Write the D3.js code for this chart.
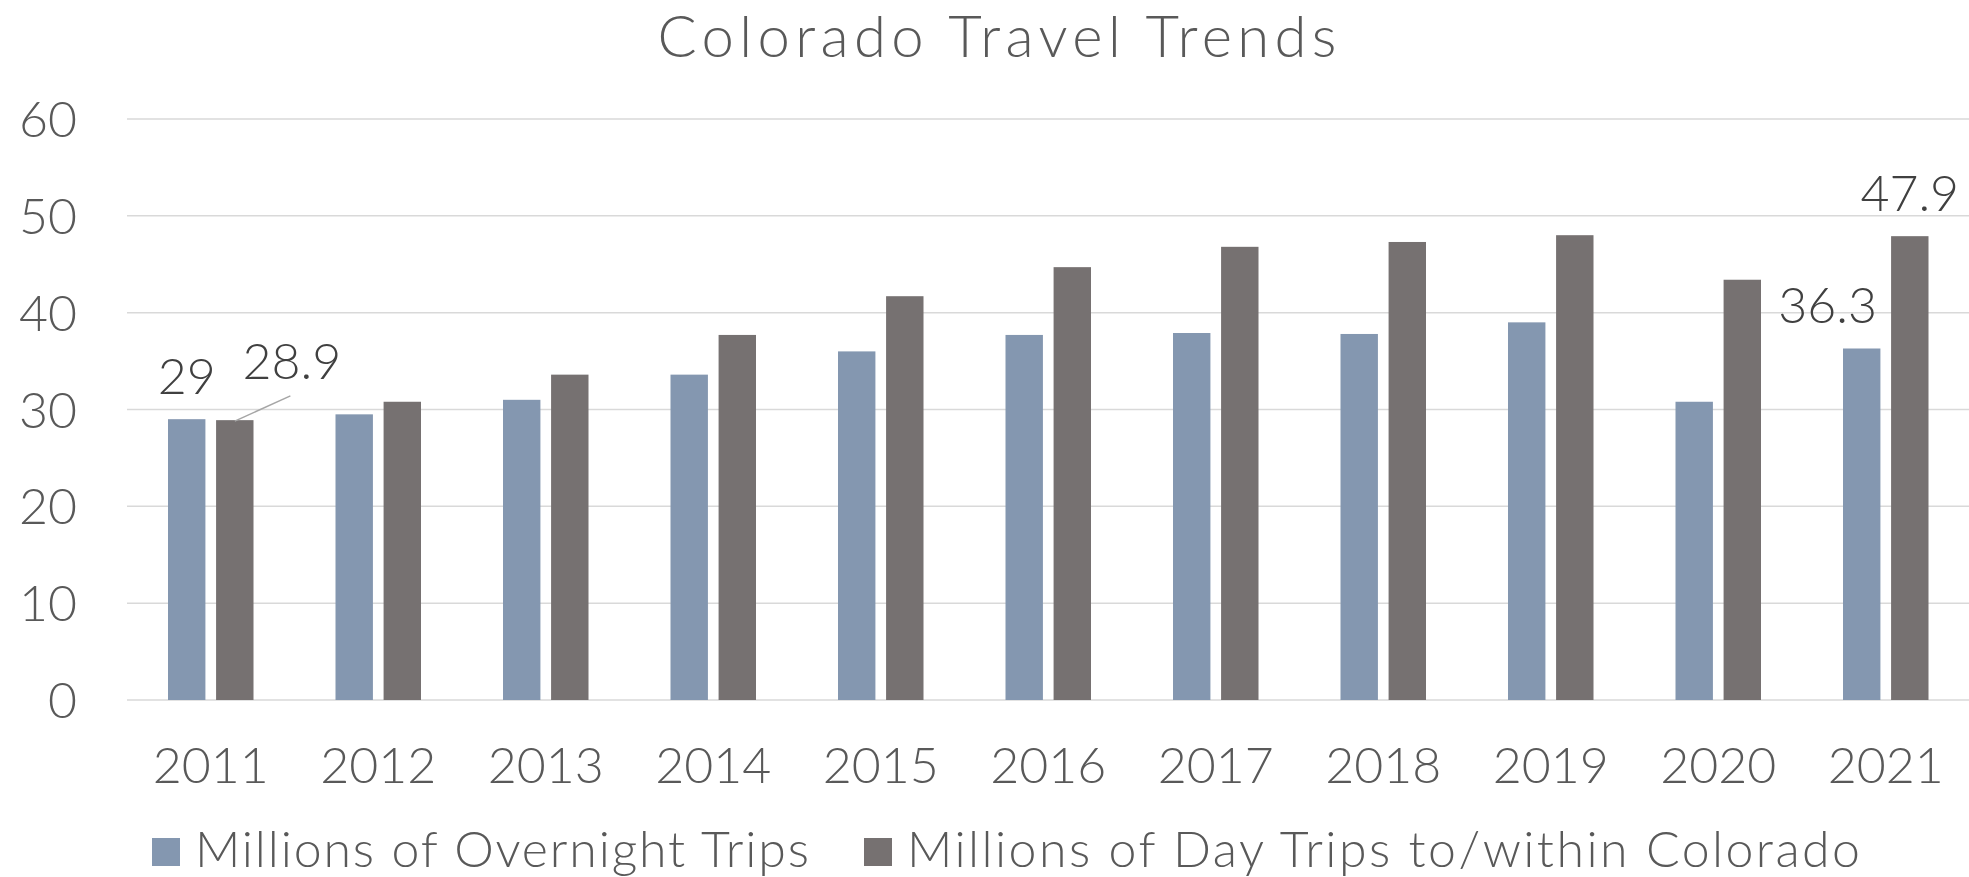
<!DOCTYPE html>
<html>
<head>
<meta charset="utf-8">
<script src="https://cdn.jsdelivr.net/npm/d3@7"></script>
<style>
  html, body { margin: 0; padding: 0; background: #ffffff; }
  svg { display: block; }
  text { font-family: "Lato", "Liberation Sans", sans-serif; font-weight: 300; }
</style>
</head>
<body>
<svg id="chart" width="1969" height="877"></svg>
<script>
const title = "Colorado Travel Trends";
const years = ["2011","2012","2013","2014","2015","2016","2017","2018","2019","2020","2021"];
const seriesNames = ["Millions of Overnight Trips", "Millions of Day Trips to/within Colorado"];
const overnight = [29, 29.5, 31.0, 33.6, 36.0, 37.7, 37.9, 37.8, 39.0, 30.8, 36.3];
const dayTrips  = [28.9, 30.8, 33.6, 37.7, 41.7, 44.7, 46.8, 47.3, 48.0, 43.4, 47.9];
const yTicks = [0, 10, 20, 30, 40, 50, 60];
const colors = ["#8497B0", "#767171"];
// labelled points: [seriesIndex, yearIndex]
const labelled = [[0, 0], [1, 0], [0, 10], [1, 10]];

const svg = d3.select("#chart");
const plot = { left: 127, right: 1969.5, top: 119, bottom: 700 };

const x = d3.scaleBand().domain(years).range([plot.left, plot.right]).paddingInner(0).paddingOuter(0);
const groupW = 85.5;
const x1 = d3.scaleBand().domain([0, 1]).range([0, groupW]).paddingInner(0.222).paddingOuter(0);
const y = d3.scaleLinear().domain([0, 60]).range([plot.bottom, plot.top]);

const values = [overnight, dayTrips];
const barX = (s, i) => x(years[i]) + (x.bandwidth() - groupW) / 2 + x1(s);

// gridlines
svg.append("g")
  .selectAll("line")
  .data(yTicks)
  .join("line")
  .attr("x1", plot.left).attr("x2", plot.right)
  .attr("y1", d => y(d)).attr("y2", d => y(d))
  .attr("stroke", "#d9d9d9").attr("stroke-width", 1.5);

// y axis labels
const yAxis = d3.axisLeft(y).tickValues(yTicks).tickSize(0).tickPadding(0).tickFormat(d3.format("d"));
const yg = svg.append("g").attr("transform", "translate(77,0)").call(yAxis);
yg.select(".domain").remove();
yg.attr("font-family", null);
yg.selectAll("text").attr("font-size", 50).attr("fill", "#595959")
  .attr("dy", "0.35em").attr("x", 0);

// bars
values.forEach((vals, s) => {
  svg.append("g")
    .selectAll("rect")
    .data(vals)
    .join("rect")
    .attr("x", (d, i) => barX(s, i))
    .attr("width", x1.bandwidth())
    .attr("y", d => y(d))
    .attr("height", d => y(0) - y(d))
    .attr("fill", colors[s]);
});

// x axis labels
const xAxis = d3.axisBottom(x).tickSize(0).tickPadding(0);
const xg = svg.append("g").attr("transform", "translate(0,783)").call(xAxis);
xg.select(".domain").remove();
xg.attr("font-family", null);
xg.selectAll("text").attr("font-size", 50).attr("fill", "#595959")
  .attr("dy", 0).attr("y", 0);

// data labels
const labelOffsets = {
  "0-0": { dx: 0, dy: -25, anchor: "middle" },
  "1-0": { dx: 8, dy: -41, anchor: "start", leader: true },
  "0-10": { dx: -34, dy: -25, anchor: "middle" },
  "1-10": { dx: 0, dy: -25, anchor: "middle" }
};
labelled.forEach(([s, i]) => {
  const v = values[s][i];
  const cx = barX(s, i) + x1.bandwidth() / 2;
  const o = labelOffsets[s + "-" + i];
  let tx = cx + o.dx;
  if (o.anchor === "start") tx = barX(s, i) + x1.bandwidth() + o.dx - 19;
  const ty = y(v) + o.dy;
  if (o.leader) {
    svg.append("line")
      .attr("x1", cx).attr("y1", y(v) + 1)
      .attr("x2", cx + 55.6).attr("y2", y(v) - 24.3)
      .attr("stroke", "#a6a6a6").attr("stroke-width", 1.5);
  }
  svg.append("text")
    .attr("x", tx).attr("y", ty)
    .attr("text-anchor", o.anchor)
    .attr("font-size", 50).attr("fill", "#404040")
    .text(d3.format("~g")(v));
});

// title
svg.append("text")
  .attr("x", 997).attr("y", 57)
  .attr("text-anchor", "middle")
  .attr("font-size", 58).attr("fill", "#595959")
  .attr("textLength", 679).attr("lengthAdjust", "spacing")
  .text(title);

// legend
const legendX = [152, 864];
const legendTextW = [614, 953];
seriesNames.forEach((name, s) => {
  const g = svg.append("g").attr("transform", `translate(${legendX[s]},0)`);
  g.append("rect").attr("x", 0).attr("y", 838).attr("width", 28).attr("height", 28).attr("fill", colors[s]);
  g.append("text").attr("x", 43).attr("y", 867).attr("font-size", 50).attr("fill", "#595959")
    .attr("textLength", legendTextW[s]).attr("lengthAdjust", "spacing")
    .text(name);
});
</script>
</body>
</html>
